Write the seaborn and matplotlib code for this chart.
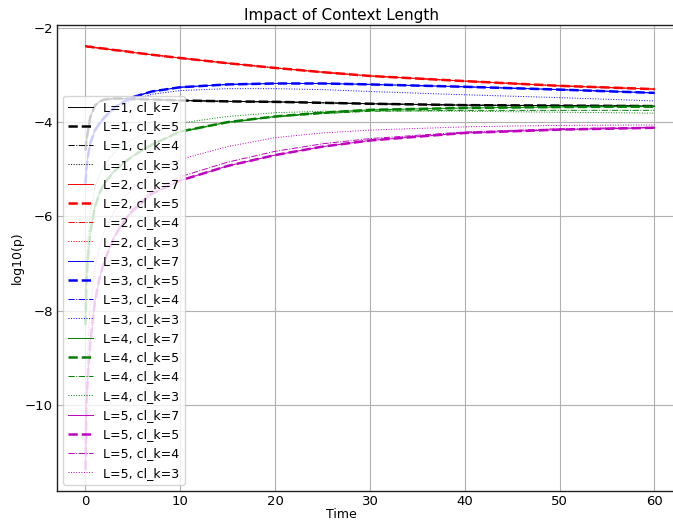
import matplotlib
matplotlib.use("Agg")
import matplotlib.pyplot as plt
import seaborn as sns

# Sample times (shared by every curve)
time = [0, 0.1, 0.25, 0.5, 1, 1.5, 2, 3, 4, 5, 7, 10, 15, 20, 25, 30, 40, 50, 60]

# log10(p) per context length L and cl_k
L1_main = [-4.60, -4.40, -4.20, -3.90, -3.65, -3.56, -3.52, -3.50, -3.50, -3.51,
           -3.52, -3.54, -3.56, -3.57, -3.59, -3.61, -3.64, -3.65, -3.66]
L2_main = [-2.39, -2.39, -2.40, -2.40, -2.42, -2.43, -2.44, -2.47, -2.49, -2.52,
           -2.57, -2.64, -2.75, -2.85, -2.94, -3.02, -3.13, -3.23, -3.30]
L3_main = [-5.30, -5.00, -4.73, -4.45, -4.17, -4.02, -3.90, -3.70, -3.57, -3.47,
           -3.35, -3.26, -3.20, -3.18, -3.18, -3.20, -3.25, -3.31, -3.38]
L3_k3 = [-5.30, -5.02, -4.76, -4.48, -4.21, -4.06, -3.94, -3.75, -3.62, -3.53,
         -3.41, -3.33, -3.29, -3.29, -3.31, -3.35, -3.42, -3.48, -3.55]
L4_main = [-8.30, -7.40, -6.90, -6.35, -5.80, -5.50, -5.30, -5.05, -4.87, -4.72,
           -4.48, -4.20, -4.00, -3.88, -3.80, -3.74, -3.70, -3.68, -3.67]
L4_k4 = [-8.30, -7.40, -6.90, -6.35, -5.80, -5.50, -5.30, -5.05, -4.87, -4.72,
         -4.48, -4.21, -4.01, -3.89, -3.82, -3.77, -3.75, -3.75, -3.75]
L4_k3 = [-8.30, -7.10, -6.50, -5.95, -5.40, -5.10, -4.90, -4.65, -4.48, -4.36,
         -4.18, -4.02, -3.88, -3.80, -3.77, -3.76, -3.77, -3.79, -3.81]
L5_main = [-11.38, -10.00, -9.40, -8.70, -7.80, -7.30, -6.95, -6.45, -6.12, -5.88,
           -5.52, -5.24, -4.93, -4.70, -4.52, -4.39, -4.23, -4.16, -4.12]
L5_k4 = [-11.38, -10.00, -9.40, -8.70, -7.80, -7.30, -6.95, -6.45, -6.10, -5.84,
         -5.46, -5.16, -4.85, -4.62, -4.46, -4.35, -4.21, -4.14, -4.11]
L5_k3 = [-11.38, -9.60, -8.80, -7.90, -7.10, -6.65, -6.30, -5.90, -5.62, -5.40,
         -5.10, -4.79, -4.52, -4.33, -4.23, -4.17, -4.10, -4.07, -4.06]

context_lengths = [1, 2, 3, 4, 5]
cl_ks = [7, 5, 4, 3]
series = {
    1: {7: L1_main, 5: L1_main, 4: L1_main, 3: L1_main},
    2: {7: L2_main, 5: L2_main, 4: L2_main, 3: L2_main},
    3: {7: L3_main, 5: L3_main, 4: L3_main, 3: L3_k3},
    4: {7: L4_main, 5: L4_main, 4: L4_k4, 3: L4_k3},
    5: {7: L5_main, 5: L5_main, 4: L5_k4, 3: L5_k3},
}

colors = {1: "k", 2: "r", 3: "b", 4: "g", 5: "m"}
styles = {7: ("-", 0.7), 5: ("--", 1.8), 4: ("-.", 0.7), 3: (":", 0.7)}

plt.rcParams["font.family"] = ["DejaVu Sans"]
plt.rcParams["font.size"] = 9

fig = plt.figure(figsize=(6.73, 5.2), dpi=100)
ax = fig.add_axes([0.0847, 0.0558, 0.930, 0.896])

for L in context_lengths:
    for k in cl_ks:
        ls, lw = styles[k]
        sns.lineplot(x=time, y=series[L][k], ax=ax, color=colors[L],
                     linestyle=ls, linewidth=lw, label=f"L={L}, cl_k={k}")

ax.set_xlim(-3, 63)
ax.set_ylim(-11.83, -1.94)
ax.set_xticks([0, 10, 20, 30, 40, 50, 60])
ax.set_yticks([-10, -8, -6, -4, -2])
ax.grid(True, color="#b0b0b0", linewidth=0.8)
ax.tick_params(labelsize=9.5, length=0, pad=3)
for sp in ax.spines.values():
    sp.set_linewidth(1.0)
    sp.set_color("#222222")

ax.set_title("Impact of Context Length", fontsize=11, x=0.455, pad=4)
ax.set_xlabel("Time", fontsize=9)
ax.set_ylabel("log10(p)", fontsize=9)
ax.xaxis.set_label_coords(0.455, -0.036)
ax.yaxis.set_label_coords(-0.053, 0.5)

ax.legend(loc="lower left", fontsize=9, framealpha=0.8)

fig.savefig("out.png", dpi=100)
